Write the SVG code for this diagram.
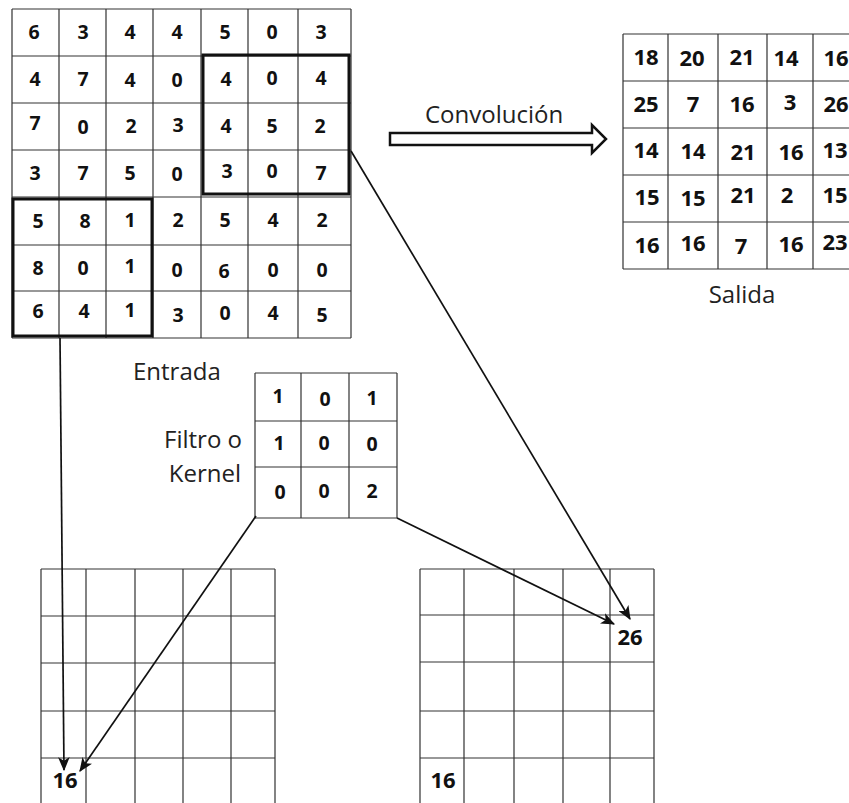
<svg xmlns="http://www.w3.org/2000/svg" width="849" height="803" viewBox="0 0 849 803">
<defs>
<style>
.g{stroke:#333;stroke-width:1.2;fill:none}
.thick{stroke:#111;stroke-width:3;fill:none}
.n{font-family:"Open Sans","Liberation Sans",sans-serif;font-weight:bold;font-size:19.5px;fill:#111;text-anchor:middle}
.m{font-family:"Open Sans","Liberation Sans",sans-serif;font-weight:bold;font-size:22px;fill:#111;text-anchor:middle}
.lbl{font-family:"Open Sans","Liberation Sans",sans-serif;font-size:24px;fill:#222}
.c{stroke:#111;stroke-width:1.7;fill:none;marker-end:url(#ah)}
</style>
<marker id="ah" viewBox="0 0 12 10" refX="11" refY="5" markerWidth="14" markerHeight="12" markerUnits="userSpaceOnUse" orient="auto">
<path d="M0,0 L12,5 L0,10 L3,5 z" fill="#111"/>
</marker>
</defs>
<rect width="849" height="803" fill="#fff"/>

<g id="entrada">
<g class="g">
<path d="M12,9V338M59,9V338M106,9V338M153,9V338M201,9V338M248,9V338M298,9V338M351,9V338"/>
<path d="M12,9H351M12,56H351M12,103H351M12,150H351M12,197H351M12,245H351M12,291H351M12,338H351"/>
</g>
<rect class="thick" x="203" y="55" width="146" height="139"/>
<rect class="thick" x="13" y="199" width="139" height="137"/>
<g class="n">
<text x="34" y="39">6</text><text x="83" y="39">3</text><text x="130" y="39">4</text><text x="177" y="39">4</text><text x="225" y="39">5</text><text x="272" y="39">0</text><text x="321" y="39">3</text>
<text x="35" y="86">4</text><text x="83" y="86">7</text><text x="130" y="87">4</text><text x="177" y="87">0</text><text x="226" y="86">4</text><text x="272" y="85">0</text><text x="321" y="85">4</text>
<text x="35" y="130">7</text><text x="83" y="134">0</text><text x="131" y="133">2</text><text x="178" y="132">3</text><text x="226" y="133">4</text><text x="272" y="133">5</text><text x="320" y="133">2</text>
<text x="35" y="180">3</text><text x="83" y="180">7</text><text x="130" y="180">5</text><text x="177" y="181">0</text><text x="227" y="178">3</text><text x="272" y="178">0</text><text x="321" y="180">7</text>
<text x="38" y="228">5</text><text x="85" y="228">8</text><text x="130" y="227">1</text><text x="178" y="227">2</text><text x="225" y="227">5</text><text x="273" y="227">4</text><text x="322" y="227">2</text>
<text x="38" y="275">8</text><text x="83" y="275">0</text><text x="130" y="273">1</text><text x="177" y="277">0</text><text x="224" y="278">6</text><text x="273" y="277">0</text><text x="322" y="277">0</text>
<text x="38" y="318">6</text><text x="84" y="318">4</text><text x="130" y="317">1</text><text x="178" y="322">3</text><text x="225" y="320">0</text><text x="273" y="320">4</text><text x="322" y="322">5</text>
</g>
<text class="lbl" x="133" y="380">Entrada</text>
</g>

<g id="convolucion">
<text class="lbl" x="425" y="123" font-size="25">Convolución</text>
<polygon points="390,133 592,133 592,125 606,139 592,153 592,145 390,145" fill="#fff" stroke="#111" stroke-width="2.5"/>
</g>

<g id="salida">
<g class="g">
<path d="M623,34V269M668,34V269M718,34V269M767,34V269M813,34V269"/>
<path d="M623,34H855M623,81H855M623,128H855M623,175H855M623,222H855M623,269H855"/>
</g>
<g class="m">
<text x="646" y="65">18</text><text x="692" y="66">20</text><text x="742" y="65">21</text><text x="786" y="66">14</text><text x="836" y="66">16</text>
<text x="646" y="112">25</text><text x="693" y="112">7</text><text x="742" y="112">16</text><text x="790" y="110">3</text><text x="836" y="112">26</text>
<text x="646" y="158">14</text><text x="693" y="159">14</text><text x="743" y="160">21</text><text x="791" y="160">16</text><text x="835" y="158">13</text>
<text x="647" y="205">15</text><text x="693" y="206">15</text><text x="743" y="203">21</text><text x="787" y="203">2</text><text x="835" y="203">15</text>
<text x="647" y="253">16</text><text x="693" y="251">16</text><text x="741" y="254">7</text><text x="791" y="252">16</text><text x="835" y="250">23</text>
</g>
<text class="lbl" x="742" y="303" text-anchor="middle">Salida</text>
</g>

<g id="kernel">
<g class="g">
<path d="M255,373V518M301,373V518M349,373V518M397,373V518"/>
<path d="M255,373H397M255,421H397M255,467H397M255,518H397"/>
</g>
<g class="n">
<text x="278" y="403">1</text><text x="325" y="406">0</text><text x="372" y="405">1</text>
<text x="279" y="450">1</text><text x="324" y="450">0</text><text x="372" y="451">0</text>
<text x="280" y="499">0</text><text x="324" y="498">0</text><text x="372" y="498">2</text>
</g>
<text class="lbl" x="242" y="448" text-anchor="end">Filtro o</text>
<text class="lbl" x="241" y="482" text-anchor="end">Kernel</text>
</g>

<g id="mapa-izq">
<g class="g">
<path d="M41,569V803M86,569V803M135,569V803M183,569V803M231,569V803M275,569V803"/>
<path d="M41,569H275M41,616H275M41,663H275M41,711H275M41,758H275"/>
</g>
<text class="m" x="65" y="788">16</text>
</g>

<g id="mapa-der">
<g class="g">
<path d="M420,569V803M464,569V803M514,569V803M563,569V803M610,569V803M654,569V803"/>
<path d="M420,569H654M420,615H654M420,662H654M420,711H654M420,758H654"/>
</g>
<text class="m" x="630" y="645">26</text>
<text class="m" x="443" y="788">16</text>
</g>

<g id="conectores">
<path class="c" d="M60,338L64,770"/>
<path class="c" d="M256,516L80,771"/>
<path class="c" d="M397,518L614,624"/>
<path class="c" d="M351,151L630,619"/>
</g>
</svg>
